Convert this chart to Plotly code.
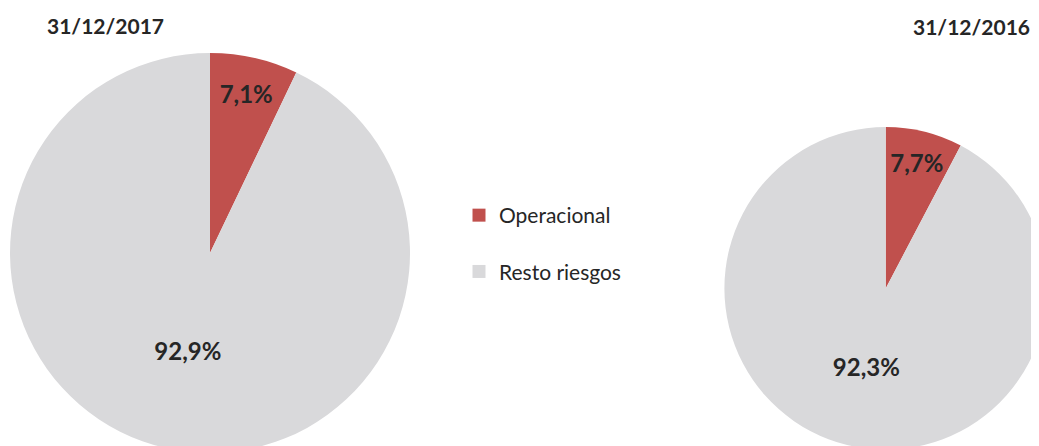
import plotly.graph_objects as go

labels = ["Operacional", "Resto riesgos"]
values_2017 = [7.1, 92.9]
values_2016 = [7.7, 92.3]
titles = ["31/12/2017", "31/12/2016"]
colors = ["#C0504D", "#D9D9DB"]

W, H = 1039, 446
OFF = 8  # page body margin offset
FONT = "Lato"
TXT = "#262626"


def dom(cx, cy, r):
    # cx, cy, r in screen pixels
    cx -= OFF
    cy -= OFF
    return dict(x=[max(0, (cx - r) / W), min(1, (cx + r) / W)],
                y=[max(0, (H - cy - r) / H), min(1, (H - cy + r) / H)])


def px(x):
    return (x - OFF) / W


def py(y):
    return 1 - (y - OFF) / H


fig = go.Figure()
for vals, d in [(values_2017, dom(210, 253, 200)), (values_2016, dom(885.7, 288.4, 161.3))]:
    fig.add_trace(go.Pie(
        labels=labels, values=vals, sort=False, direction="clockwise", rotation=0,
        marker=dict(colors=colors, line=dict(width=0)),
        texttemplate="%{value:.1f}%", textposition="inside",
        insidetextorientation="horizontal",
        textfont=dict(family=FONT, size=24, color=TXT, weight="bold"),
        hoverinfo="label+value", showlegend=False, domain=d,
    ))

# legend entries
for lab, col in zip(labels, colors):
    fig.add_trace(go.Scatter(x=[None], y=[None], mode="markers", name=lab,
                             legendgroup=lab,
                             marker=dict(symbol="square", size=13, color=col)))

fig.update_layout(
    width=W, height=H, margin=dict(l=0, r=0, t=0, b=0),
    paper_bgcolor="white", plot_bgcolor="white", separators=",.",
    xaxis=dict(visible=False), yaxis=dict(visible=False),
    font=dict(family=FONT, color=TXT),
    legend=dict(x=px(459), y=py(195), xanchor="left", yanchor="top",
                font=dict(family=FONT, size=21, color=TXT),
                tracegroupgap=26, bgcolor="rgba(0,0,0,0)"),
    annotations=[
        dict(text="<b>" + titles[0] + "</b>", x=px(105), y=py(25), xref="paper", yref="paper",
             xanchor="center", yanchor="middle",
             showarrow=False, font=dict(family=FONT, size=21, color=TXT)),
        dict(text="<b>" + titles[1] + "</b>", x=px(971), y=py(26), xref="paper", yref="paper",
             xanchor="center", yanchor="middle",
             showarrow=False, font=dict(family=FONT, size=21, color=TXT)),
    ],
)

fig.write_html("out.html")
